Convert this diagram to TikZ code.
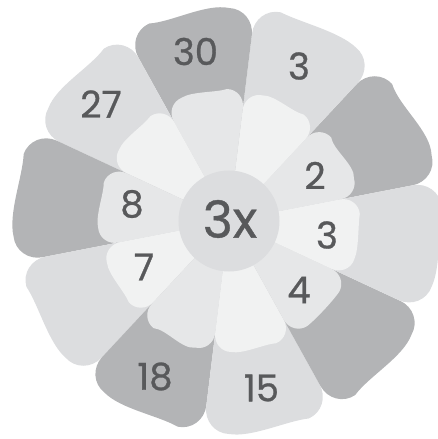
\documentclass[tikz,border=0pt]{standalone}
\usepackage{fontspec}
\setmainfont{Poppins}[FakeBold=0.8]
\definecolor{odark}{HTML}{B3B4B6}
\definecolor{olight}{HTML}{DCDDDF}
\definecolor{igrey}{HTML}{E6E7E8}
\definecolor{iwhite}{HTML}{F1F2F2}
\definecolor{ccircle}{HTML}{DCDDDF}
\definecolor{txt}{HTML}{58595B}
% #1 start angle, #2 radius, #3 corner size, #4 wave, #5 fill colour
\newcommand\mypetal[5]{%
  \pgfmathsetmacro\pdA{#3/#2*57.2958}%
  \pgfmathsetmacro\pdB{0.45*\pdA}%
  \fill[#5] (0,0) -- ({#1}:{#2-#3})
    .. controls ({#1}:{#2-0.45*#3}) and ({#1+\pdB}:{#2}) .. ({#1+\pdA}:{#2})
    .. controls ({#1+13}:{#2+#4}) and ({#1+23}:{#2-#4}) .. ({#1+36-\pdA}:{#2})
    .. controls ({#1+36-\pdB}:{#2}) and ({#1+36}:{#2-0.45*#3}) .. ({#1+36}:{#2-#3}) -- cycle;}
\begin{document}
\begin{tikzpicture}[x=1pt,y=1pt,
  lbl/.style={text=txt, font=\fontsize{37}{37}\selectfont, inner sep=0pt},
  biglbl/.style={text=txt, font=\fontsize{51}{51}\selectfont, inner sep=0pt}]
\useasboundingbox (-229,-218) rectangle (209,221);
% outer ring
\mypetal{11}{213}{26}{8}{odark}
\mypetal{47}{215}{26}{4}{olight}
\mypetal{83}{213}{26}{6}{odark}
\mypetal{119}{213}{26}{-6}{olight}
\mypetal{155}{216}{26}{-5}{odark}
\mypetal{191}{213}{26}{-5}{olight}
\mypetal{227}{212}{26}{5}{odark}
\mypetal{263}{213}{26}{5}{olight}
\mypetal{299}{215}{26}{-6}{odark}
\mypetal{335}{213}{26}{4}{olight}
% inner ring
\mypetal{11}{132}{18}{6}{igrey}
\mypetal{47}{130}{18}{-4}{iwhite}
\mypetal{83}{132}{18}{-3}{igrey}
\mypetal{119}{131}{18}{-3}{iwhite}
\mypetal{155}{131}{18}{-3}{igrey}
\mypetal{191}{129}{18}{3}{iwhite}
\mypetal{227}{131}{18}{-6}{igrey}
\mypetal{263}{131}{18}{3}{iwhite}
\mypetal{299}{131}{18}{0}{igrey}
\mypetal{335}{131}{18}{2}{iwhite}
% centre
\node[circle, fill=ccircle, minimum size=101pt, inner sep=0pt] (ctr) at (0,0) {};
\node[biglbl] (c3x) at (1,2) {3x};
% labels
\node[lbl] (o30) at (-33.5,169.5) {30};
\node[lbl] (o3) at (70,155) {3};
\node[lbl] (o27) at (-128,117) {27};
\node[lbl] (o18) at (-74,-155.5) {18};
\node[lbl] (o15) at (32.5,-167) {15};
\node[lbl] (i8) at (-97,17) {8};
\node[lbl] (i2) at (86,45.5) {2};
\node[lbl] (i3) at (98,-14) {3};
\node[lbl] (i4) at (70,-69) {4};
\node[lbl] (i7) at (-85,-46) {7};
\end{tikzpicture}
\end{document}
